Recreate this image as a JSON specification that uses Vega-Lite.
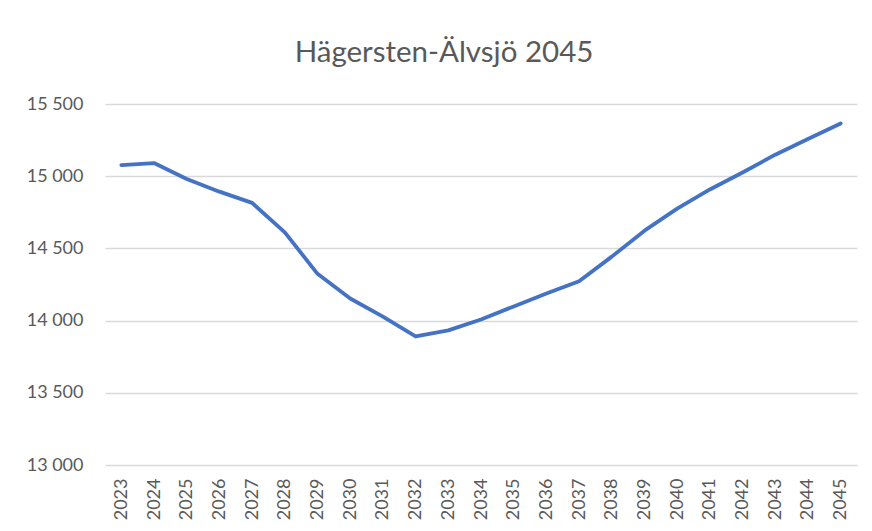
{
  "$schema": "https://vega.github.io/schema/vega-lite/v6.json",
  "autosize": {"type": "none"},
  "width": 752,
  "height": 361,
  "padding": {"left": 105, "top": 104, "right": 15, "bottom": 66},
  "background": "white",
  "title": {
    "text": "Hägersten-Älvsjö 2045",
    "font": "Lato",
    "fontSize": 29.5,
    "fontWeight": "normal",
    "color": "#595959",
    "anchor": "middle",
    "frame": "group",
    "dx": -37,
    "baseline": "alphabetic",
    "offset": 4
  },
  "config": {
    "view": {"stroke": null},
    "axis": {
      "labelFont": "Lato",
      "labelFontSize": 18,
      "labelColor": "#595959",
      "domain": false,
      "ticks": false,
      "title": null
    }
  },
  "data": {
    "values": [
      {"year": "2023", "value": 15077},
      {"year": "2024", "value": 15091},
      {"year": "2025", "value": 14981},
      {"year": "2026", "value": 14893},
      {"year": "2027", "value": 14815},
      {"year": "2028", "value": 14611},
      {"year": "2029", "value": 14324},
      {"year": "2030", "value": 14153},
      {"year": "2031", "value": 14028},
      {"year": "2032", "value": 13890},
      {"year": "2033", "value": 13932},
      {"year": "2034", "value": 14008},
      {"year": "2035", "value": 14098},
      {"year": "2036", "value": 14187},
      {"year": "2037", "value": 14272},
      {"year": "2038", "value": 14443},
      {"year": "2039", "value": 14623},
      {"year": "2040", "value": 14775},
      {"year": "2041", "value": 14908},
      {"year": "2042", "value": 15026},
      {"year": "2043", "value": 15149},
      {"year": "2044", "value": 15257},
      {"year": "2045", "value": 15365}
    ]
  },
  "mark": {
    "type": "line",
    "color": "#4472C4",
    "strokeWidth": 3.8,
    "strokeCap": "round",
    "strokeJoin": "round"
  },
  "encoding": {
    "x": {
      "field": "year",
      "type": "ordinal",
      "scale": {"type": "point", "padding": 0.5},
      "axis": {"labelAngle": -90, "labelPadding": 13, "grid": false}
    },
    "y": {
      "field": "value",
      "type": "quantitative",
      "scale": {"domain": [13000, 15500], "nice": false, "zero": false},
      "axis": {
        "values": [13000, 13500, 14000, 14500, 15000, 15500],
        "labelExpr": "replace(format(datum.value, ',d'), ',', ' ')",
        "labelPadding": 22,
        "grid": true,
        "gridColor": "#d9d9d9",
        "gridWidth": 1.3
      }
    }
  }
}
